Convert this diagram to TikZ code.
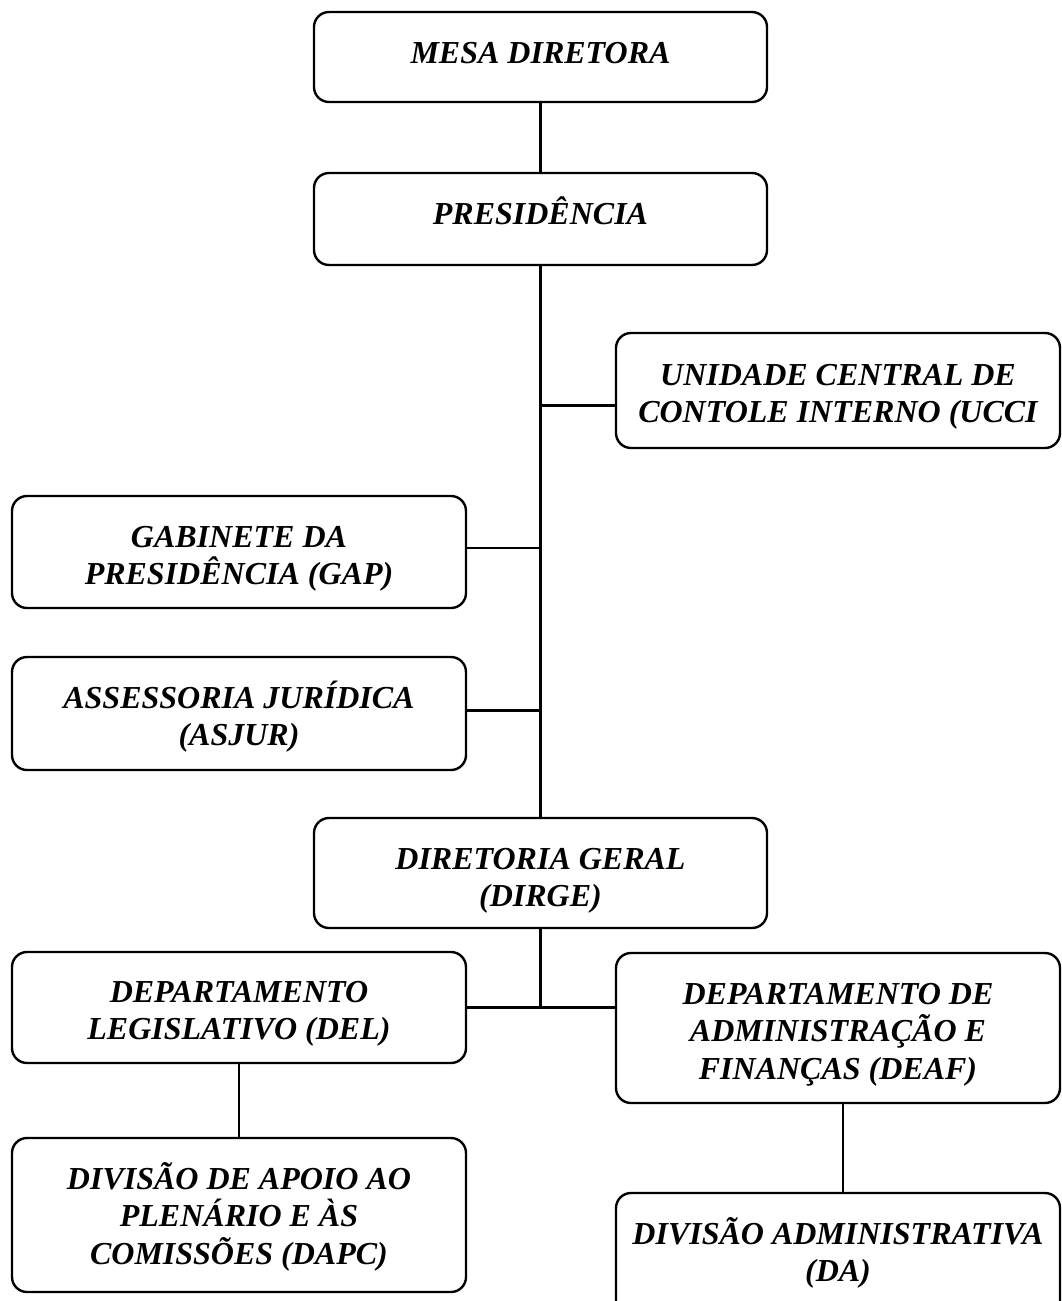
\documentclass[tikz,border=0pt]{standalone}
\usepackage{fontspec}
\setmainfont{Liberation Serif}
\newcommand{\firstline}{\rule{0pt}{32pt}}
\begin{document}
\begin{tikzpicture}[x=1pt,y=-1pt,
  box/.style={draw, line width=2.4pt, rounded corners=15pt, inner sep=0pt},
  txt/.style={align=center, inner sep=0pt, anchor=north,
    font=\fontsize{32}{37.5}\selectfont\bfseries\itshape},
  link/.style={line width=2.2pt}]
\useasboundingbox[fill=white] (0,0) rectangle (1062,1301);
% boxes
\node[box, minimum width=453, minimum height=90] (mesa) at (540.5,57) {};
\node[box, minimum width=453, minimum height=92] (pres) at (540.5,219) {};
\node[box, minimum width=444, minimum height=115] (ucci) at (838,390.5) {};
\node[box, minimum width=454, minimum height=112] (gap) at (239,552) {};
\node[box, minimum width=454, minimum height=113] (asjur) at (239,713.5) {};
\node[box, minimum width=453, minimum height=110] (dirge) at (540.5,873) {};
\node[box, minimum width=454, minimum height=111] (del) at (239,1007.5) {};
\node[box, minimum width=444, minimum height=150] (deaf) at (838,1028) {};
\node[box, minimum width=454, minimum height=154] (dapc) at (239,1215) {};
\node[box, minimum width=444, minimum height=137] (da) at (838,1261.5) {};
% texts (first baseline about 52pt below the box top)
\node[txt] (mesat) at ([yshift=-20pt]mesa.north) {\firstline MESA DIRETORA};
\node[txt] (prest) at ([yshift=-20pt]pres.north) {\firstline PRESIDÊNCIA};
\node[txt] (uccit) at ([yshift=-21pt]ucci.north) {\firstline UNIDADE CENTRAL DE\\CONTOLE INTERNO (UCCI};
\node[txt] (gapt) at ([yshift=-20pt]gap.north) {\firstline GABINETE DA\\PRESIDÊNCIA (GAP)};
\node[txt] (asjurt) at ([yshift=-20pt]asjur.north) {\firstline ASSESSORIA JURÍDICA\\(ASJUR)};
\node[txt] (dirget) at ([yshift=-20pt]dirge.north) {\firstline DIRETORIA GERAL\\(DIRGE)};
\node[txt] (delt) at ([yshift=-19pt]del.north) {\firstline DEPARTAMENTO\\LEGISLATIVO (DEL)};
\begin{scope}
\clip (deaf.north west) rectangle ([yshift=13pt]deaf.south east);
\node[txt] (deaft) at ([yshift=-20pt]deaf.north) {\firstline DEPARTAMENTO DE\\ADMINISTRAÇÃO E\\FINANÇAS (DEAF)};
\end{scope}
\node[txt] (dapct) at ([yshift=-20pt]dapc.north) {\firstline DIVISÃO DE APOIO AO\\PLENÁRIO E ÀS\\COMISSÕES (DAPC)};
\node[txt] (dat) at ([yshift=-20pt]da.north) {\firstline DIVISÃO ADMINISTRATIVA\\(DA)};
% connectors
\coordinate (j1) at ([yshift=-15pt]pres.south |- ucci.west);
\coordinate (j2) at (pres.south |- del.east);
\draw[link] (mesa.south) -- (pres.north);
\draw[link] (pres.south) -- (dirge.north);
\draw[link] (ucci.west |- j1) -- (j1);
\draw[link] ([yshift=4pt]gap.east) -- ([yshift=4pt]gap.east -| pres.south);
\draw[link] ([yshift=3pt]asjur.east) -- ([yshift=3pt]asjur.east -| pres.south);
\draw[link] (dirge.south) -- (j2);
\draw[link] (del.east) -- (deaf.west |- del.east);
\draw[link] (del.south) -- (dapc.north);
\draw[link] ([xshift=5pt]deaf.south) -- ([xshift=5pt]da.north);
\end{tikzpicture}
\end{document}
